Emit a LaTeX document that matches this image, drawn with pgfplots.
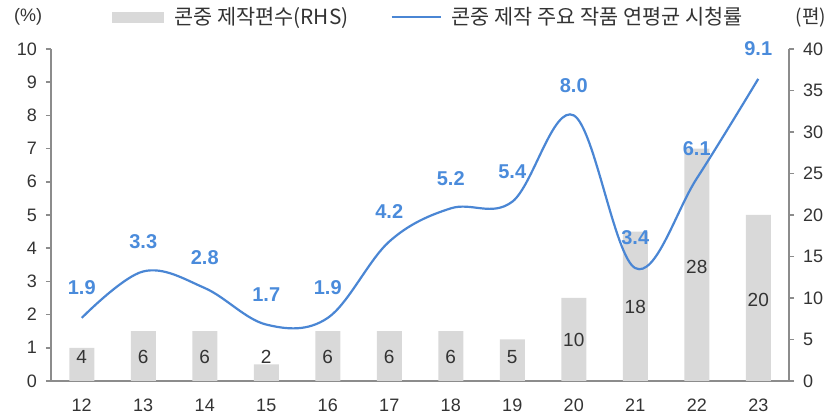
\documentclass[border=0pt]{standalone}
\usepackage{pgfplots}
\pgfplotsset{compat=1.18}
\usepackage{fontspec}
\setmainfont{Liberation Sans}
\newfontfamily\kr{Noto Sans CJK KR}
\definecolor{barc}{HTML}{D9D9D9}
\definecolor{linec}{HTML}{4A86D4}
\definecolor{labc}{HTML}{4A8BDB}
\definecolor{axc}{HTML}{8C8C8C}
\definecolor{txt}{HTML}{333333}
\begin{document}
\begin{tikzpicture}
\useasboundingbox (0,0) rectangle (417pt,207.5pt);
\pgfplotsset{
  common/.style={
    at={(25.5pt,17pt)}, anchor=south west,
    scale only axis, width=369pt, height=166pt,
    xmin=-0.5, xmax=11.5,
    axis line style={axc, line width=0.8pt},
    tick style={axc, line width=0.8pt},
    tick align=outside,
    major tick length=2.5pt, minor tick length=2.5pt,
    tick label style={font=\fontsize{9}{10}\selectfont, text=txt},
    /pgf/number format/assume math mode=true,
    clip=false,
  }
}
% bar axis (right)
\begin{axis}[common,
  ymin=0, ymax=40, ytick={0,5,...,40},
  axis x line*=bottom, axis y line*=right,
  xtick={0,...,11}, xticklabels={12,13,14,15,16,17,18,19,20,21,22,23},
  xtick style={draw=none},
  minor xtick={-0.5,0.5,...,11.5},
  xticklabel style={yshift=-3pt},
  yticklabel style={xshift=1pt},
]
\addplot[ybar, bar width=12.5pt, fill=barc, draw=none] coordinates {
(0,4) (1,6) (2,6) (3,2) (4,6) (5,6) (6,6) (7,5) (8,10) (9,18) (10,28) (11,20)};
\addplot[draw=none, mark=none, nodes near coords, point meta=explicit symbolic,
  nodes near coords align=center,
  every node near coord/.style={font=\fontsize{9.5}{10}\selectfont, text=txt, anchor=center}]
  coordinates {
(0,2.9)[4] (1,2.9)[6] (2,2.9)[6] (3,2.9)[2] (4,2.9)[6] (5,2.9)[6] (6,2.9)[6] (7,2.9)[5]
(8,4.9)[10] (9,8.9)[18] (10,13.7)[28] (11,9.8)[20]};
\end{axis}
% line axis (left)
\begin{axis}[common,
  ymin=0, ymax=10, ytick={0,...,10},
  axis y line*=left, axis x line=none,
  yticklabel style={xshift=-1pt},
  legend columns=2,
  legend style={at={(0.0827,1.096)}, anchor=west, draw=none, fill=none, inner sep=0pt,
    font=\kr\fontsize{10.4}{12}\selectfont, text=txt,
    /tikz/every odd column/.append style={column sep=3pt},
    /tikz/every even column/.append style={column sep=19pt}},
  legend cell align=left,
]
\addlegendimage{area legend, legend image code/.code={\fill[barc] (0pt,-2.5pt) rectangle (25.5pt,2.5pt);}}
\addlegendentry{콘중 제작편수(RHS)}
\addplot[smooth, tension=0.6, color=linec, line width=1.1pt, mark=none,
  legend image code/.code={\draw[linec, line width=1.1pt] (0pt,0pt) -- (24.5pt,0pt);},
  nodes near coords, nodes near coords align=center,
  every node near coord/.style={font=\bfseries\fontsize{10}{11}\selectfont, text=labc, anchor=center, yshift=15pt},
  point meta=explicit symbolic]
  coordinates {
(0,1.9)[1.9] (1,3.3)[3.3] (2,2.8)[2.8] (3,1.7)[1.7] (4,1.9)[1.9] (5,4.2)[4.2]
(6,5.2)[5.2] (7,5.4)[5.4] (8,8.0)[8.0] (9,3.4)[3.4] (10,6.1)[6.1] (11,9.1)[9.1]};
\addlegendentry{콘중 제작 주요 작품 연평균 시청률}
\node[font=\fontsize{9}{10}\selectfont, text=txt] at (rel axis cs:-0.031,1.096) {(\%)};
\node[font=\kr\fontsize{9.5}{10}\selectfont, text=txt] at (rel axis cs:1.030,1.096) {(편)};
\end{axis}
\end{tikzpicture}
\end{document}
